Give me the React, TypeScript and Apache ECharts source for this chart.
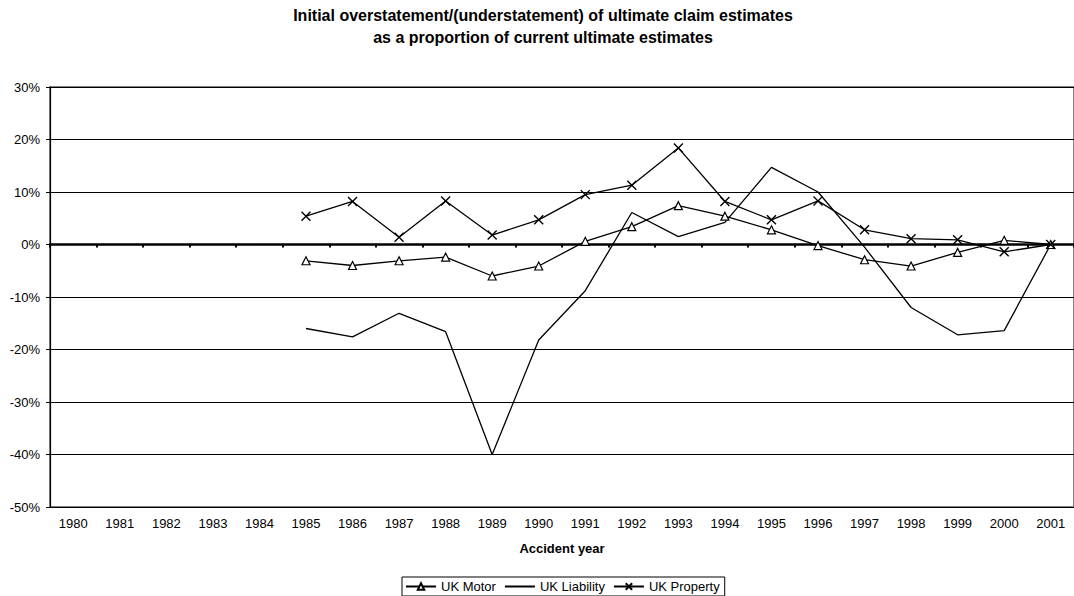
import React, { useEffect, useRef } from "react";
import * as echarts from "echarts";

// Accident years on the category axis
const years = [
  "1980", "1981", "1982", "1983", "1984", "1985", "1986", "1987", "1988", "1989", "1990",
  "1991", "1992", "1993", "1994", "1995", "1996", "1997", "1998", "1999", "2000", "2001",
];

// Initial over/(under)statement as % of current ultimate estimate
const ukMotor = [
  null, null, null, null, null, -3.1, -4.0, -3.1, -2.4, -6.0, -4.1,
  0.6, 3.4, 7.4, 5.4, 2.8, -0.2, -2.9, -4.1, -1.5, 0.8, 0,
];
const ukLiability = [
  null, null, null, null, null, -16.0, -17.6, -13.1, -16.6, -40.0, -18.2,
  -8.8, 6.1, 1.5, 4.2, 14.7, 10.0, -0.5, -12.0, -17.2, -16.4, 0,
];
const ukProperty = [
  null, null, null, null, null, 5.4, 8.2, 1.4, 8.3, 1.8, 4.7,
  9.5, 11.3, 18.4, 8.2, 4.7, 8.3, 2.8, 1.1, 0.9, -1.4, 0,
];

const titleLines = [
  "Initial overstatement/(understatement) of ultimate claim estimates",
  "as a proportion of current ultimate estimates",
];

const FONT = "'Liberation Sans', Arial, sans-serif";
const CROSS = "path://M0,0L10,10M10,0L0,10";

export default function App() {
  const ref = useRef<HTMLDivElement>(null);

  useEffect(() => {
    document.body.style.margin = "0";
    const chart = echarts.init(ref.current!, null, { renderer: "svg" });
    const lineStyle = { color: "#000", width: 1.3 };
    chart.setOption({
      animation: false,
      backgroundColor: "#fff",
      textStyle: { fontFamily: FONT, color: "#000" },
      graphic: titleLines.map((text, i) => ({
        type: "text",
        x: 543,
        y: 15 + i * 22,
        style: {
          text,
          fontFamily: FONT,
          fontSize: 16,
          fontWeight: "bold",
          fill: "#000",
          align: "center",
          verticalAlign: "middle",
        },
      })),
      grid: {
        left: 50,
        right: -1,
        top: 87,
        bottom: 89,
        show: true,
        borderColor: "#808080",
        borderWidth: 2,
      },
      legend: {
        left: 402,
        top: 577,
        orient: "horizontal",
        borderColor: "#000",
        borderWidth: 1,
        borderRadius: 0,
        padding: [3, 5, 3, 3],
        itemGap: 8,
        itemWidth: 30,
        itemHeight: 8,
        textStyle: { fontFamily: FONT, fontSize: 13, color: "#000" },
        data: [
          { name: "UK Motor" },
          { name: "UK Liability", itemStyle: { opacity: 0 } },
          { name: "UK Property" },
        ],
      },
      xAxis: [
        {
          type: "category",
          data: years,
          boundaryGap: true,
          position: "bottom",
          axisLine: { show: false, onZero: false },
          axisTick: { show: false },
          axisLabel: { fontFamily: FONT, fontSize: 13, color: "#000", margin: 10, interval: 0 },
          name: "Accident year",
          nameLocation: "middle",
          nameGap: 35,
          nameTextStyle: { fontFamily: FONT, fontSize: 13, fontWeight: "bold", color: "#000" },
        },
        {
          type: "category",
          data: years,
          boundaryGap: true,
          position: "bottom",
          axisLine: { show: true, onZero: true, lineStyle: { color: "#000", width: 2.5 } },
          axisTick: { show: true, length: 3, interval: 0, lineStyle: { color: "#000", width: 2 } },
          axisLabel: { show: false },
          splitLine: { show: false },
        },
      ],
      yAxis: {
        type: "value",
        min: -50,
        max: 30,
        interval: 10,
        axisLine: { show: true, lineStyle: { color: "#000", width: 1.2 } },
        axisTick: { show: true, length: 4, lineStyle: { color: "#000" } },
        axisLabel: {
          fontFamily: FONT,
          fontSize: 13,
          color: "#000",
          margin: 10,
          formatter: (v: number) => `${v}%`,
        },
        splitLine: { show: true, lineStyle: { color: "#000", width: 1 } },
      },
      series: [
        {
          name: "UK Motor",
          type: "line",
          data: ukMotor,
          symbol: "triangle",
          symbolSize: 8,
          showAllSymbol: true,
          lineStyle,
          itemStyle: { color: "#fff", borderColor: "#000", borderWidth: 1.2 },
          z: 4,
        },
        {
          name: "UK Liability",
          type: "line",
          data: ukLiability,
          symbol: "none",
          lineStyle,
          itemStyle: { color: "#000" },
          z: 3,
        },
        {
          name: "UK Property",
          type: "line",
          data: ukProperty,
          symbol: CROSS,
          symbolSize: 9,
          showAllSymbol: true,
          lineStyle,
          itemStyle: { color: "none", borderColor: "#000", borderWidth: 1.4 },
          z: 5,
        },
      ],
    });
    return () => chart.dispose();
  }, []);

  return <div ref={ref} style={{ width: 1074, height: 596 }} />;
}
